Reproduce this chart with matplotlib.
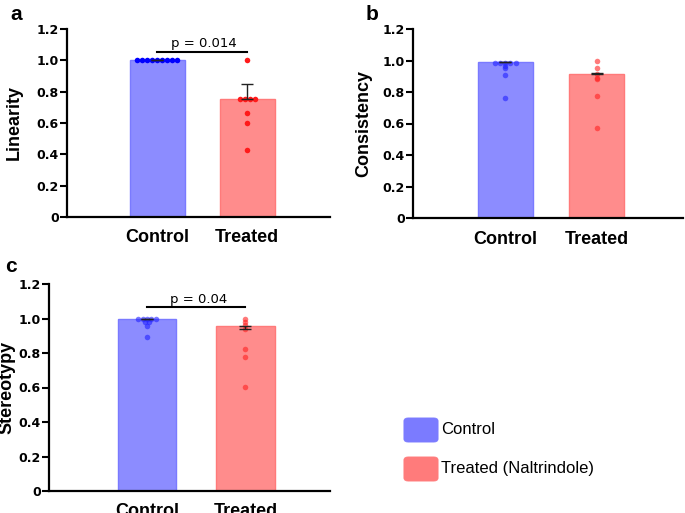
import numpy as np
import matplotlib
matplotlib.use("Agg")
import matplotlib.pyplot as plt
from matplotlib.patches import FancyBboxPatch

# groups
groups = ["Control", "Treated"]

# a - linearity
lin_mean = [1.0, 0.75]
lin_err_lo = [0.0, 0.0]
lin_err_hi = [0.0, 0.097]
lin_ctrl = [1.0, 1.0, 1.0, 1.0, 1.0, 1.0, 1.0, 1.0, 1.0]
lin_trt = [1.0, 0.75, 0.75, 0.75, 0.75, 0.667, 0.6, 0.43]
lin_p = "p = 0.014"

# b - consistency
con_mean = [0.988, 0.914]
con_err_lo = [0.0, 0.0]
con_err_hi = [0.004, 0.008]
con_ctrl = [0.985, 0.985, 0.985, 0.985, 0.985, 0.968, 0.95, 0.905, 0.764]
con_trt = [0.999, 0.952, 0.914, 0.887, 0.88, 0.776, 0.573]

# c - stereotypy
ste_mean = [0.995, 0.957]
ste_err_lo = [0.0, 0.02]
ste_err_hi = [0.004, 0.0]
ste_ctrl = [1.0, 1.0, 1.0, 1.0, 1.0, 0.98, 0.98, 0.957, 0.891]
ste_trt = [1.0, 0.98, 0.962, 0.937, 0.821, 0.779, 0.605]
ste_p = "p = 0.04"

yticks = [0, 0.2, 0.4, 0.6, 0.8, 1.0, 1.2]
ytick_labels = ["0", "0.2", "0.4", "0.6", "0.8", "1.0", "1.2"]

bar_fill = ["#8c8cff", "#ff8c8c"]
bar_edge = ["#7a7aff", "#ff7a7a"]

plt.rcParams['font.family'] = ['Liberation Sans', 'DejaVu Sans']


def row_offsets(vals, spacing, tol=0.004):
    # spread equal values side by side, like a small swarm
    vals = sorted(vals, reverse=True)
    xs, ys = [], []
    i = 0
    while i < len(vals):
        j = i
        while j + 1 < len(vals) and abs(vals[j + 1] - vals[i]) < tol:
            j += 1
        n = j - i + 1
        for k in range(n):
            xs.append((k - (n - 1) / 2) * spacing)
            ys.append(vals[i + k])
        i = j + 1
    return np.array(xs), np.array(ys)


def panel(ax, means, err_lo, err_hi, ctrl, trt, ylabel, xlim, width, spacing,
          dot_cols, dot_alpha, label_x):
    x = np.arange(len(groups))
    ax.bar(x, means, width=width, color=bar_fill, edgecolor=bar_edge,
           linewidth=1, zorder=1)
    for i, pts in enumerate([ctrl, trt]):
        dx, dy = row_offsets(pts, spacing)
        ax.scatter(x[i] + dx, dy, s=16, color=dot_cols[i], alpha=dot_alpha,
                   linewidths=0, zorder=3)
    ax.errorbar(x, means, yerr=[err_lo, err_hi], fmt='none', ecolor='#222222',
                elinewidth=1, capsize=4, capthick=1, zorder=4)
    ax.set_xlim(*xlim)
    ax.set_ylim(0, 1.2)
    ax.set_yticks(yticks)
    ax.set_yticklabels(ytick_labels, fontfamily='DejaVu Sans', fontweight='bold',
                       fontsize=9)
    ax.set_xticks(x)
    ax.set_xticklabels(groups, fontweight='bold', fontsize=13)
    ax.tick_params(axis='x', length=0, pad=9)
    ax.tick_params(axis='y', length=5, width=1.5, pad=1)
    for s in ['top', 'right']:
        ax.spines[s].set_visible(False)
    for s in ['left', 'bottom']:
        ax.spines[s].set_linewidth(1.6)
    ax.set_ylabel(ylabel, fontweight='bold', fontsize=13)
    ax.yaxis.set_label_coords(label_x, 0.5)


def bracket(ax, y, text):
    ax.plot([0, 1], [y, y], color='black', lw=1.5, zorder=5)
    ax.text(0.52, y + 0.01, text, ha='center', va='bottom', fontsize=9.5,
            fontfamily='DejaVu Sans')


fig = plt.figure(figsize=(6.85, 5.13), dpi=100)
W, H = 685, 513


def px_axes(left, right, top, bottom):
    return fig.add_axes([left / W, 1 - bottom / H, (right - left) / W, (bottom - top) / H])


ax_a = px_axes(67, 330, 29, 217)
ax_b = px_axes(413, 683, 29, 218)
ax_c = px_axes(49, 330, 284, 491)

solid = ["#0000ff", "#ff1a1a"]
soft = ["#2222ff", "#ff2222"]

panel(ax_a, lin_mean, lin_err_lo, lin_err_hi, lin_ctrl, lin_trt, "Linearity",
      (-1.0, 1.92), 0.61, 0.056, solid, 1.0, -0.17)
bracket(ax_a, 1.053, lin_p)

panel(ax_b, con_mean, con_err_lo, con_err_hi, con_ctrl, con_trt, "Consistency",
      (-1.016, 1.95), 0.6, 0.055, soft, 0.6, -0.152)

panel(ax_c, ste_mean, ste_err_lo, ste_err_hi, ste_ctrl, ste_trt, "Stereotypy",
      (-0.995, 1.858), 0.59, 0.044, soft, 0.6, -0.12)
bracket(ax_c, 1.065, ste_p)

# panel letters
fig.text(10 / W, 1 - 20 / H, "a", fontsize=15, fontweight='bold', ha='left', va='baseline')
fig.text(366 / W, 1 - 20 / H, "b", fontsize=15, fontweight='bold', ha='left', va='baseline')
fig.text(5 / W, 1 - 272 / H, "c", fontsize=15, fontweight='bold', ha='left', va='baseline')

# legend
leg_labels = ["Control", "Treated (Naltrindole)"]
leg_cols = ["#7b7bff", "#ff7b7b"]
leg_y = [430, 469]
for lab, col, yc in zip(leg_labels, leg_cols, leg_y):
    box = FancyBboxPatch((408 / W, (H - yc - 9) / H), 26 / W, 18 / H,
                         boxstyle="round,pad=0.006", transform=fig.transFigure,
                         facecolor=col, edgecolor=col, lw=0.5)
    fig.patches.append(box)
    fig.text(441 / W, 1 - yc / H, lab, fontsize=12, ha='left', va='center')

fig.savefig("out.png", dpi=100)
